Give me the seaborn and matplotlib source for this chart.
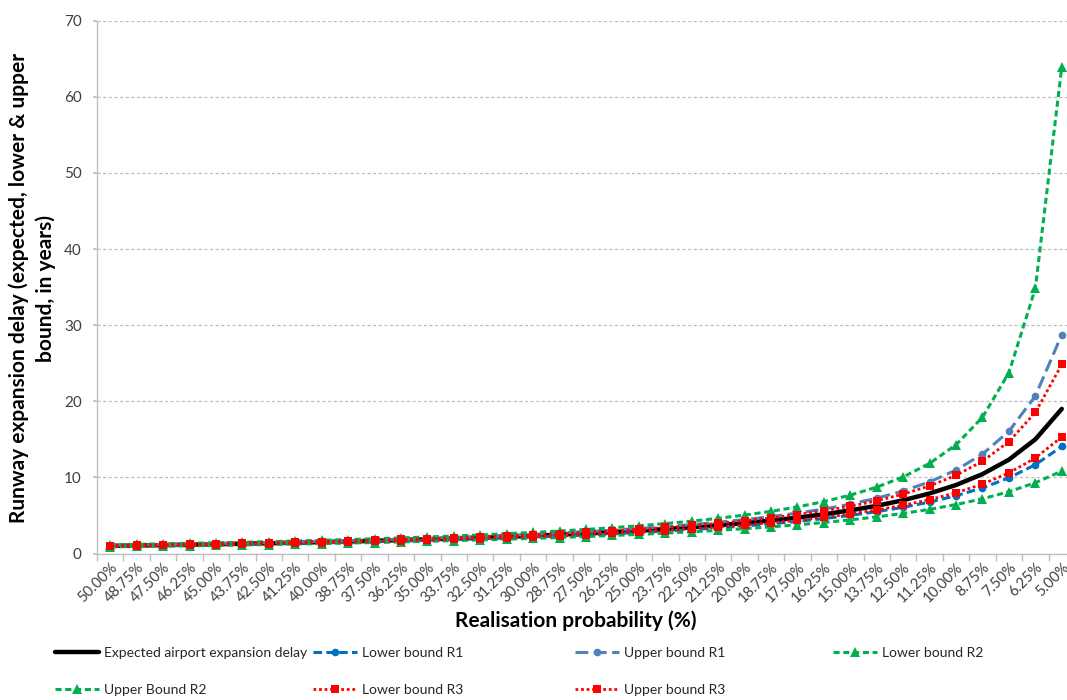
import matplotlib
matplotlib.use("Agg")
import matplotlib.pyplot as plt
import seaborn as sns
import numpy as np

categories = ["50.00%", "48.75%", "47.50%", "46.25%", "45.00%", "43.75%", "42.50%", "41.25%",
              "40.00%", "38.75%", "37.50%", "36.25%", "35.00%", "33.75%", "32.50%", "31.25%",
              "30.00%", "28.75%", "27.50%", "26.25%", "25.00%", "23.75%", "22.50%", "21.25%",
              "20.00%", "18.75%", "17.50%", "16.25%", "15.00%", "13.75%", "12.50%", "11.25%",
              "10.00%", "8.75%", "7.50%", "6.25%", "5.00%"]

expected = [1.00, 1.05, 1.11, 1.16, 1.22, 1.29, 1.35, 1.42, 1.50, 1.58, 1.67, 1.76, 1.86, 1.96,
            2.08, 2.20, 2.33, 2.48, 2.64, 2.81, 3.00, 3.21, 3.44, 3.71, 4.00, 4.33, 4.71, 5.15,
            5.67, 6.27, 7.00, 7.89, 9.00, 10.43, 12.33, 15.00, 19.00]
lower_r1 = [0.94, 0.98, 1.03, 1.09, 1.14, 1.20, 1.27, 1.33, 1.40, 1.48, 1.55, 1.64, 1.73, 1.83,
            1.93, 2.04, 2.16, 2.29, 2.43, 2.59, 2.75, 2.94, 3.14, 3.37, 3.62, 3.90, 4.22, 4.59,
            5.01, 5.50, 6.07, 6.76, 7.59, 8.62, 9.94, 11.67, 14.06]
upper_r1 = [1.07, 1.12, 1.18, 1.24, 1.31, 1.37, 1.45, 1.52, 1.61, 1.69, 1.79, 1.89, 2.00, 2.11,
            2.24, 2.38, 2.53, 2.69, 2.87, 3.06, 3.28, 3.52, 3.79, 4.10, 4.45, 4.84, 5.31, 5.84,
            6.49, 7.26, 8.21, 9.41, 10.96, 13.06, 16.06, 20.69, 28.76]
lower_r2 = [0.87, 0.92, 0.96, 1.01, 1.06, 1.12, 1.18, 1.24, 1.30, 1.37, 1.44, 1.52, 1.60, 1.69,
            1.78, 1.88, 1.99, 2.10, 2.23, 2.37, 2.51, 2.68, 2.85, 3.05, 3.26, 3.50, 3.77, 4.07,
            4.42, 4.81, 5.27, 5.80, 6.43, 7.19, 8.12, 9.30, 10.82]
upper_r2 = [1.15, 1.21, 1.27, 1.34, 1.41, 1.48, 1.56, 1.65, 1.74, 1.83, 1.94, 2.05, 2.17, 2.30,
            2.44, 2.60, 2.77, 2.95, 3.16, 3.39, 3.64, 3.93, 4.25, 4.62, 5.05, 5.54, 6.12, 6.82,
            7.67, 8.72, 10.06, 11.84, 14.29, 17.90, 23.75, 34.84, 63.94]
lower_r3 = [0.96, 1.00, 1.06, 1.11, 1.17, 1.23, 1.29, 1.36, 1.43, 1.51, 1.59, 1.68, 1.77, 1.87,
            1.97, 2.09, 2.21, 2.35, 2.49, 2.65, 2.83, 3.02, 3.23, 3.47, 3.73, 4.03, 4.37, 4.75,
            5.20, 5.72, 6.34, 7.08, 7.98, 9.12, 10.59, 12.55, 15.31]
upper_r3 = [1.05, 1.10, 1.16, 1.22, 1.28, 1.35, 1.42, 1.49, 1.57, 1.66, 1.75, 1.85, 1.95, 2.07,
            2.19, 2.32, 2.46, 2.62, 2.79, 2.98, 3.19, 3.42, 3.68, 3.97, 4.30, 4.68, 5.11, 5.61,
            6.21, 6.92, 7.80, 8.88, 10.27, 12.12, 14.70, 18.53, 24.84]

series_labels = ["Expected airport expansion delay", "Lower bound R1", "Upper bound R1",
                 "Lower bound R2", "Upper Bound R2", "Lower bound R3", "Upper bound R3"]
y_ticks = [0, 10, 20, 30, 40, 50, 60, 70]

sns.set_theme(style="white")
plt.rcParams["font.family"] = ["Lato", "DejaVu Sans"]

W, H = 1067, 700
fig = plt.figure(figsize=(W / 100, H / 100), dpi=100)
ax = fig.add_axes([97 / W, (H - 553.5) / H, 978 / W, (553.5 - 20.7) / H])

x = np.arange(len(categories))

styles = [
    dict(color="#000000", linewidth=3.2, linestyle="-", marker=None),
    dict(color="#0070C0", linewidth=2.2, linestyle=(0, (2.8, 1.4)), marker="o", markersize=5.5),
    dict(color="#4F81BD", linewidth=2.2, linestyle=(0, (4.2, 1.8)), marker="o", markersize=5.5),
    dict(color="#00B050", linewidth=2.2, linestyle=(0, (2.0, 1.2)), marker="^", markersize=7.5),
    dict(color="#00B050", linewidth=2.2, linestyle=(0, (2.0, 1.2)), marker="^", markersize=7.5),
    dict(color="#FF0000", linewidth=2.0, linestyle=(0, (1.0, 1.0)), marker="s", markersize=6),
    dict(color="#FF0000", linewidth=2.0, linestyle=(0, (1.0, 1.0)), marker="s", markersize=6),
]
data = [expected, lower_r1, upper_r1, lower_r2, upper_r2, lower_r3, upper_r3]

handles = []
for vals, lab, st in zip(data, series_labels, styles):
    kw = dict(st)
    if kw["marker"] is None:
        kw.pop("marker")
        kw.pop("markersize", None)
    else:
        kw["markeredgewidth"] = 0
    sns.lineplot(x=x, y=vals, ax=ax, legend=False, sort=False, **kw)
    line = ax.lines[-1]
    line.set_label(lab)
    handles.append(line)

ax.set_xlim(-0.5, len(categories) - 0.5)
ax.set_ylim(0, 70)
ax.set_yticks(y_ticks)
ax.set_yticklabels([str(v) for v in y_ticks])
ax.set_xticks(x)
ax.set_xticklabels(categories, rotation=45, ha="right", rotation_mode="anchor")
ax.set_xticks(np.arange(-0.5, len(categories), 1.0), minor=True)

ax.grid(axis="y", color="#BFBFBF", linestyle=(0, (2.5, 2.0)), linewidth=0.9)
ax.set_axisbelow(True)
for side in ["top", "right"]:
    ax.spines[side].set_visible(False)
for side in ["left", "bottom"]:
    ax.spines[side].set_color("#BFBFBF")
    ax.spines[side].set_linewidth(1.0)

ax.tick_params(axis="y", which="major", length=3, color="#BFBFBF", direction="out",
               pad=8, labelsize=11, labelcolor="#404040", left=True)
ax.tick_params(axis="x", which="major", length=0, pad=5, labelsize=10.5, labelcolor="#404040")
ax.tick_params(axis="x", which="minor", length=5, color="#BFBFBF", direction="out", bottom=True)
ax.set_xlabel("")
ax.set_ylabel("")

fig.text(576 / W, 1 - 621 / H, "Realisation probability (%)", ha="center", va="center",
         fontsize=15, fontweight="bold", color="#000000")
fig.text(32 / W, 1 - 288 / H,
         "Runway expansion delay (expected, lower & upper\nbound, in years)",
         ha="center", va="center", rotation=90, fontsize=15, fontweight="bold",
         color="#000000", linespacing=1.4, multialignment="center")

positions = [(55, 653), (313, 653), (575, 653), (833, 653), (55, 690), (313, 690), (575, 690)]
for h, (px, py) in zip(handles, positions):
    fig.legend(handles=[h], labels=[h.get_label()], loc="center left",
               bbox_to_anchor=(px / W, 1 - py / H), frameon=False, borderpad=0,
               borderaxespad=0, handlelength=3.2, handletextpad=0.3, fontsize=10,
               numpoints=1)

fig.savefig("out.png", dpi=100)
